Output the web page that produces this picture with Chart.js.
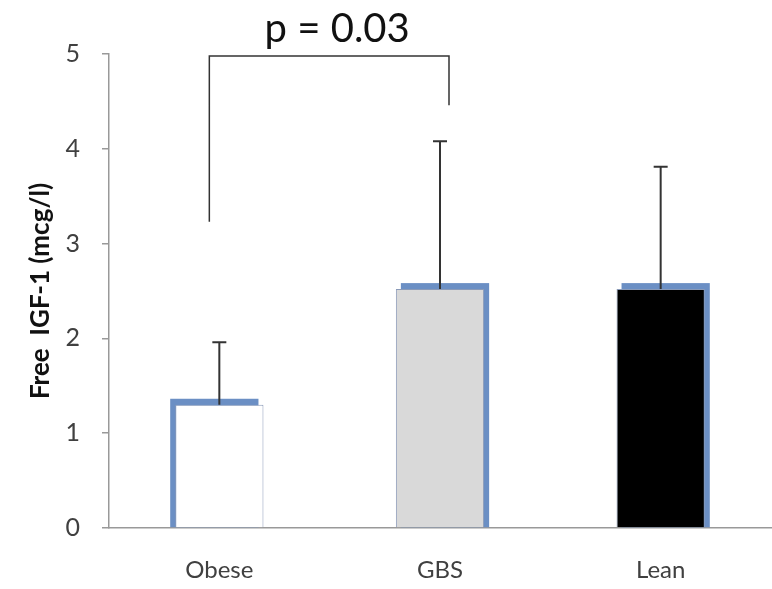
<!DOCTYPE html>
<html>
<head>
<meta charset="utf-8">
<script src="https://cdn.jsdelivr.net/npm/chart.js@4.4.0/dist/chart.umd.min.js"></script>
<style>
html,body{margin:0;padding:0;background:#fff;}
#wrap{width:772px;height:589px;position:relative;}
</style>
</head>
<body>
<div id="wrap"><canvas id="c" width="772" height="589"></canvas></div>
<script>
const categories = ["Obese", "GBS", "Lean"];
const means = [1.30, 2.52, 2.52];
const upperErr = [1.96, 4.08, 3.81];
const fillColors = ["#ffffff", "#d9d9d9", "#000000"];
const shadowDir = [-1, 1, 1];
const yTicks = [0, 1, 2, 3, 4, 5];
const bracketLeftY = 3.23;
const bracketTopY = 4.98;
const bracketRightY = 4.46;
const pLabel = "p = 0.03";

const FONT = 'Lato, "Open Sans", sans-serif';

const decorPlugin = {
  id: 'decor',
  beforeDatasetsDraw(chart) {
    const ctx = chart.ctx;
    const meta = chart.getDatasetMeta(0);
    ctx.save();
    ctx.fillStyle = '#6b8fc4';
    meta.data.forEach((bar, i) => {
      const p = bar.getProps(['x','y','base','width'], true);
      const l = p.x - p.width/2;
      const dx = shadowDir[i] * 5;
      ctx.fillRect(l + dx, p.y - 6, p.width, p.base - p.y + 6);
    });
    ctx.restore();
  },
  afterDatasetsDraw(chart) {
    const ctx = chart.ctx;
    const xs = chart.scales.x, ys = chart.scales.y;
    const meta = chart.getDatasetMeta(0);
    ctx.save();
    ctx.strokeStyle = '#333';
    ctx.lineWidth = 2;
    meta.data.forEach((bar, i) => {
      const p = bar.getProps(['x','y'], true);
      const yt = ys.getPixelForValue(upperErr[i]);
      ctx.beginPath();
      ctx.moveTo(p.x, p.y);
      ctx.lineTo(p.x, yt);
      ctx.moveTo(p.x - 7, yt);
      ctx.lineTo(p.x + 7, yt);
      ctx.stroke();
    });
    const x1 = xs.getPixelForValue(0) - 10;
    const x2 = xs.getPixelForValue(1) + 9;
    ctx.strokeStyle = '#333';
    ctx.lineWidth = 1.5;
    ctx.beginPath();
    ctx.moveTo(x1, ys.getPixelForValue(bracketLeftY));
    ctx.lineTo(x1, ys.getPixelForValue(bracketTopY));
    ctx.lineTo(x2, ys.getPixelForValue(bracketTopY));
    ctx.lineTo(x2, ys.getPixelForValue(bracketRightY));
    ctx.stroke();
    ctx.fillStyle = '#111';
    ctx.font = '40px ' + FONT;
    ctx.textAlign = 'center';
    ctx.textBaseline = 'alphabetic';
    ctx.fillText(pLabel, (x1 + x2) / 2 + 8, 42);
    ctx.restore();
  }
};

new Chart(document.getElementById('c'), {
  type: 'bar',
  data: {
    labels: categories,
    datasets: [{
      data: means,
      backgroundColor: fillColors,
      borderColor: '#8a9ab8',
      borderWidth: 1,
      categoryPercentage: 1.0,
      barPercentage: 0.4
    }]
  },
  options: {
    responsive: false,
    animation: false,
    layout: { padding: { top: 54, right: 1, left: 0, bottom: 0 } },
    plugins: { legend: { display: false }, tooltip: { enabled: false } },
    scales: {
      x: {
        afterFit(scale) { scale.height = 61; },
        grid: { display: false },
        border: { color: '#999', width: 1.5 },
        ticks: { color: '#404040', font: { family: FONT, size: 24 }, padding: 20 }
      },
      y: {
        min: 0, max: 5,
        afterFit(scale) { scale.width = 109; },
        afterBuildTicks(scale) { scale.ticks = yTicks.map(v => ({ value: v })); },
        grid: { drawOnChartArea: false, drawTicks: true, tickLength: 7, color: '#999', lineWidth: 1.5 },
        border: { color: '#999', width: 1.5 },
        ticks: { color: '#404040', font: { family: FONT, size: 25 }, padding: 22 },
        title: { display: true, text: 'Free  IGF-1 (mcg/l)', color: '#111', font: { family: FONT, size: 26, weight: 'bold' }, padding: { top: 25, bottom: 0 } }
      }
    }
  },
  plugins: [decorPlugin]
});
</script>
</body>
</html>
